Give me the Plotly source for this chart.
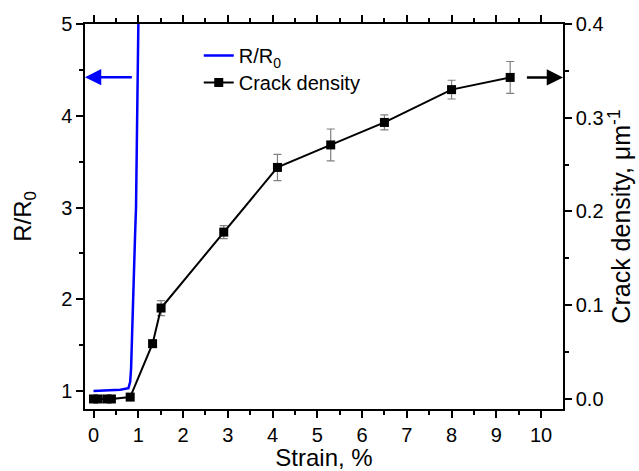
import plotly.graph_objects as go

# R/R0 curve (left axis)
strain_r = [0.0, 0.2, 0.4, 0.6, 0.78, 0.82, 0.84, 0.86, 0.89, 0.93, 0.95, 0.96, 0.98, 1.0, 1.01]
r_ratio = [1.0, 1.005, 1.01, 1.015, 1.03, 1.1, 1.25, 1.63, 2.07, 2.72, 3.0, 3.6, 4.1, 5.0, 5.3]

# Crack density (right axis)
strain_c = [0.0, 0.1, 0.3, 0.4, 0.82, 1.32, 1.51, 2.91, 4.11, 5.30, 6.50, 8.0, 9.31]
crack = [0.0, 0.0, 0.0, 0.0, 0.002, 0.059, 0.097, 0.178, 0.247, 0.271, 0.295, 0.330, 0.343]
crack_err = [0, 0, 0, 0, 0, 0, 0.008, 0.007, 0.014, 0.017, 0.008, 0.010, 0.017]

FONT = "Liberation Sans, Arial, sans-serif"

fig = go.Figure()
fig.add_trace(go.Scatter(
    x=strain_r, y=r_ratio, mode="lines", name="R/R<sub>0</sub>",
    legend="legend",
    line=dict(color="#0000ff", width=2.5), yaxis="y"))
fig.add_trace(go.Scatter(
    x=strain_c, y=crack, mode="lines+markers", name="Crack density",
    legend="legend2",
    line=dict(color="black", width=2),
    marker=dict(symbol="square", size=9, color="black"),
    error_y=dict(type="data", array=crack_err, visible=True,
                 color="#808080", thickness=1.2, width=4),
    yaxis="y2"))

axis_common = dict(showline=True, linecolor="black", linewidth=1.5,
                   ticks="outside", tickcolor="black", tickwidth=1.5,
                   ticklen=7, showgrid=False, zeroline=False, automargin=False,
                   tickfont=dict(family=FONT, size=20, color="black"))

legend_common = dict(xanchor="left", yanchor="middle",
                     bgcolor="rgba(0,0,0,0)", font=dict(family=FONT, size=20))

fig.update_layout(
    width=639, height=471,
    margin=dict(l=85, r=76, t=24, b=62),
    plot_bgcolor="white", paper_bgcolor="white",
    font=dict(family=FONT, color="black"),
    xaxis=dict(range=[-0.19, 10.49], dtick=1, tick0=0, mirror="ticks",
               minor=dict(dtick=0.5, ticks="outside", ticklen=4, tickcolor="black", tickwidth=1.5),
               title=dict(text="Strain, %", font=dict(family=FONT, size=24), standoff=2),
               **axis_common),
    yaxis=dict(range=[0.804, 5], dtick=1, tick0=0,
               minor=dict(dtick=0.5, ticks="outside", ticklen=4, tickcolor="black", tickwidth=1.5),
               title=dict(text="R/R<sub>0</sub>", font=dict(family=FONT, size=24), standoff=23),
               **axis_common),
    yaxis2=dict(range=[-0.0107, 0.4], dtick=0.1, tick0=0, tickformat=".1f",
                overlaying="y", side="right",
                minor=dict(dtick=0.05, ticks="outside", ticklen=4, tickcolor="black", tickwidth=1.5),
                title=dict(text="Crack density, μm<sup>-1</sup>", font=dict(family=FONT, size=25), standoff=0),
                **axis_common),
    legend=dict(x=0.238, y=0.918, **legend_common),
    legend2=dict(x=0.238, y=0.848, **legend_common),
    showlegend=True,
)

# arrows indicating axes
fig.add_annotation(x=-0.19, y=4.42, ax=0.89, ay=4.42, xref="x", yref="y",
                   axref="x", ayref="y", text="", showarrow=True,
                   arrowhead=2, arrowsize=1.3, arrowwidth=2.5, arrowcolor="#0000ff")
fig.add_annotation(x=10.49, y=0.343, ax=9.65, ay=0.343, xref="x", yref="y2",
                   axref="x", ayref="y2", text="", showarrow=True,
                   arrowhead=2, arrowsize=1.3, arrowwidth=2.5, arrowcolor="black")

fig.write_html("out.html", config={"displayModeBar": False},
               post_script="document.body.style.margin='0';document.body.style.overflow='hidden';")
